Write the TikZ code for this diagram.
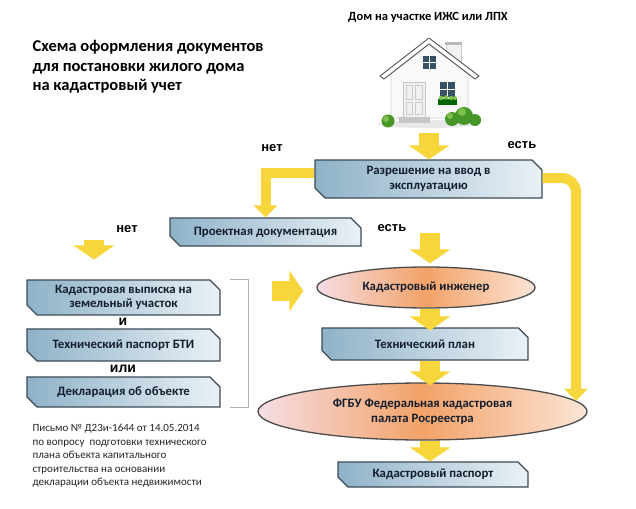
\documentclass[tikz,border=0pt]{standalone}
\usepackage{fontspec}
\setmainfont{Carlito}
\newfontfamily\arialf{Liberation Sans}
\usetikzlibrary{shapes.misc,shapes.geometric,arrows.meta,calc}
\definecolor{yel}{RGB}{246,214,58}
\definecolor{boxL}{RGB}{143,178,200}
\definecolor{boxR}{RGB}{234,241,246}
\definecolor{boxline}{RGB}{60,75,85}
\definecolor{boxtext}{RGB}{20,30,45}
\definecolor{ovL}{RGB}{245,222,228}
\definecolor{ovM}{RGB}{243,162,104}
\definecolor{ovR}{RGB}{251,229,214}
\definecolor{ovline}{RGB}{75,75,75}
\definecolor{winblue}{RGB}{55,80,100}
\definecolor{bushG}{RGB}{70,150,40}
\definecolor{bushL}{RGB}{125,192,75}
\begin{document}
\begin{tikzpicture}[x=1pt,y=-1pt,
  box/.style={chamfered rectangle, chamfered rectangle corners={north east,south west},
    chamfered rectangle sep=5pt, draw=boxline, line width=1.2pt,
    left color=boxL, right color=boxR, text=boxtext, align=center, inner sep=0pt,
    font=\bfseries\fontsize{12.8}{14.5}\selectfont},
  oval/.style={ellipse, draw=ovline, line width=1.3pt, left color=ovL, right color=ovR,
    middle color=ovM, text=boxtext, align=center, inner sep=0pt,
    font=\bfseries\fontsize{12.8}{15}\selectfont},
  yarrow/.style={draw=yel, line width=20pt, -{Triangle[width=40pt,length=14pt]}},
  ythin/.style={draw=yel, line width=10pt, -{Triangle[width=23pt,length=12pt]}},
  lbl/.style={font=\arialf\bfseries\fontsize{13}{15}\selectfont, text=black},
  conj/.style={font=\arialf\bfseries\fontsize{14}{16}\selectfont, text=black},
  brkline/.style={draw=gray!60, line width=0.7pt},
]
\fill[white] (0,0) rectangle (636,508);
\useasboundingbox (0,0) rectangle (636,508);

% title
\node[anchor=west, align=left, font=\bfseries\fontsize{16.5}{19.5}\selectfont, text=black]
  (title) at (29,67) {Схема оформления документов\\для постановки жилого дома\\на кадастровый учет};
\node[font=\bfseries\fontsize{12.5}{15}\selectfont, text=black] (houselbl) at (428,17)
  {Дом на участке ИЖС или ЛПХ};

% house picture
\fill[gray!18] (428,124) ellipse [x radius=50, y radius=4];
\filldraw[fill=gray!10, draw=gray!40, line width=0.5pt] (446,44) rectangle (461,64);
\fill[gray!55] (445,42) rectangle (462,45);
\filldraw[fill=gray!5, draw=gray!35, line width=0.6pt] (391,118) -- (391,74) -- (429,44) -- (468,74) -- (468,118) -- cycle;
\filldraw[fill=white, draw=gray!65!black, line width=0.9pt, line join=round]
  (380,76) -- (429,38) -- (479,76) -- (475,79) -- (429,44) -- (384,79) -- cycle;
\fill[winblue] (423,56) rectangle (436,69);
\draw[white, line width=1pt] (429.5,56) -- (429.5,69) (423,62.5) -- (436,62.5);
\filldraw[fill=gray!12, draw=gray!45, line width=0.8pt] (403,82) rectangle (425,117);
\draw[gray!40, line width=0.5pt] (406,85) rectangle (412.5,99) (415.5,85) rectangle (422,99)
  (406,102) rectangle (412.5,114) (415.5,102) rectangle (422,114);
\fill[winblue] (440,82) rectangle (455,97);
\draw[white, line width=1pt] (447.5,82) -- (447.5,97) (440,89.5) -- (455,89.5);
\fill[green!40!black] (438,99) rectangle (457,105);
\fill[bushL] (441,98) circle (2.2) (446,97.5) circle (2.2) (451,98) circle (2.2) (455,98) circle (2);
\fill[gray!45] (399,117) rectangle (430,123);
\fill[bushG] (388,121) circle (6.5);
\fill[bushG] (452,119) circle (7) (464,116) circle (9) (475,120) circle (6);
\fill[bushL] (386,119) circle (3) (462,112) circle (4) (450,116) circle (3);
\coordinate (house) at (429,133);

% nodes
\node[box, minimum width=227pt, minimum height=38pt] (perm) at (428.5,179) {Разрешение на ввод в\\эксплуатацию};
\node[box, minimum width=191pt, minimum height=28pt] (proj) at (265.5,232) {Проектная документация};
\node[box, minimum width=193pt, minimum height=31pt] (b1) at (123.5,297.5) {Кадастровая выписка на\\земельный участок};
\node[box, minimum width=193pt, minimum height=32pt] (b2) at (123.5,345) {Технический паспорт БТИ};
\node[box, minimum width=193pt, minimum height=30pt] (b3) at (123.5,392) {Декларация об объекте};
\node[oval, minimum width=218pt, minimum height=41pt] (eng) at (426,287.5) {Кадастровый инженер};
\node[box, minimum width=206pt, minimum height=32pt] (tplan) at (425,344) {Технический план};
\node[oval, minimum width=329pt, minimum height=57pt] (fgbu) at (422.5,411.5) {ФГБУ Федеральная кадастровая\\палата Росреестра};
\node[box, minimum width=190pt, minimum height=25pt] (cpass) at (433,474.5) {Кадастровый паспорт};

% labels
\node[lbl] (net1) at (272,148) {нет};
\node[lbl] (est1) at (522,145) {есть};
\node[lbl] (net2) at (127,229) {нет};
\node[lbl] (est2) at (392,228) {есть};
\node[conj] (and) at (123,322) {и};
\node[conj] (or) at (123,369) {или};

\node[anchor=north west, align=left, font=\fontsize{11}{13.5}\selectfont, text=black!85]
  (letter) at (29,421) {Письмо № Д23и-1644 от 14.05.2014\\по вопросу\ \ подготовки технического\\плана объекта капитального\\строительства на основании\\декларации объекта недвижимости};

% bracket
\draw[brkline] ($(b1.north)+(106.5,0)$) -- ++(18,0) |- ($(b3.south)+(106.5,0)$);
\coordinate (brk) at (248,291);

% connectors
\draw[yarrow] (house) -- (house |- perm.north);
\draw[ythin] ([yshift=6pt]perm.west) -| (proj.north);
\draw[ythin, rounded corners=14pt] ([yshift=1pt]perm.east) -| (fgbu.4);
\coordinate (netA) at (94,240);
\draw[yarrow, shorten >=20pt] (netA) -- (netA |- b1.north);
\coordinate (estA) at (430,233);
\draw[yarrow, shorten >=3pt] (estA) -- (estA |- eng.north);
\draw[yarrow, shorten <=24pt, shorten >=13pt] (brk) -- (brk -| eng.west);
\draw[yarrow, shorten >=-3pt] ([xshift=4pt]eng.south) -- ([xshift=4pt]eng.south |- tplan.north);
\draw[yarrow, shorten >=-3pt] ([xshift=5pt]tplan.south) -- ([xshift=5pt]tplan.south |- fgbu.north);
\draw[yarrow] ([xshift=7.5pt]fgbu.south) -- ([xshift=7.5pt]fgbu.south |- cpass.north);
\end{tikzpicture}
\end{document}
